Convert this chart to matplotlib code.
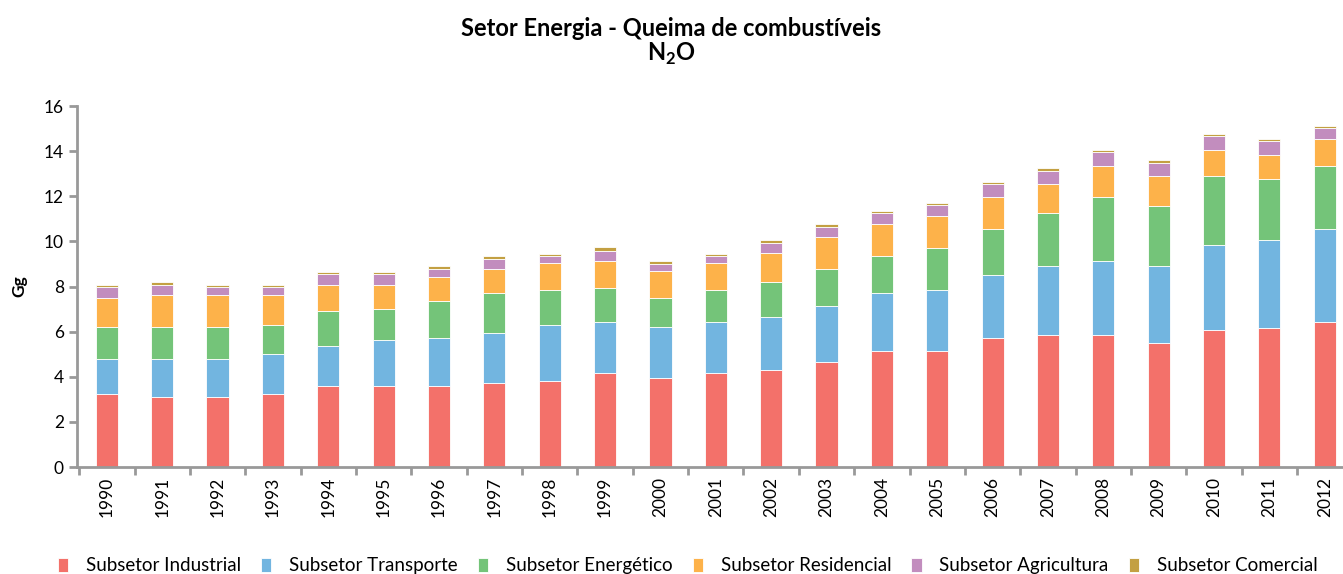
import numpy as np
import matplotlib.pyplot as plt

plt.rcParams['font.family'] = ['Lato', 'DejaVu Sans']
plt.rcParams['mathtext.fontset'] = 'custom'
plt.rcParams['mathtext.rm'] = 'Lato'
plt.rcParams['mathtext.bf'] = 'Lato:bold'

# dados (Gg N2O)
anos = [str(a) for a in range(1990, 2013)]
industrial = [3.24, 3.12, 3.12, 3.24, 3.59, 3.59, 3.59, 3.73, 3.83, 4.18, 3.95, 4.18,
              4.30, 4.65, 5.12, 5.12, 5.71, 5.83, 5.83, 5.48, 6.06, 6.18, 6.42]
transporte = [1.54, 1.66, 1.66, 1.77, 1.78, 2.02, 2.12, 2.22, 2.47, 2.24, 2.25, 2.24,
              2.35, 2.47, 2.59, 2.71, 2.82, 3.06, 3.29, 3.41, 3.77, 3.88, 4.11]
energetico = [1.42, 1.42, 1.42, 1.30, 1.53, 1.41, 1.66, 1.78, 1.53, 1.53, 1.28, 1.41,
              1.53, 1.65, 1.65, 1.88, 2.00, 2.35, 2.83, 2.70, 3.06, 2.71, 2.83]
residencial = [1.28, 1.42, 1.42, 1.31, 1.16, 1.04, 1.05, 1.04, 1.19, 1.17, 1.19, 1.19,
               1.30, 1.41, 1.42, 1.43, 1.42, 1.31, 1.41, 1.31, 1.17, 1.07, 1.19]
agricultura = [0.48, 0.44, 0.34, 0.34, 0.49, 0.49, 0.36, 0.47, 0.34, 0.47, 0.34, 0.34,
               0.45, 0.46, 0.46, 0.46, 0.58, 0.57, 0.59, 0.58, 0.59, 0.59, 0.46]
comercial = [0.10, 0.12, 0.10, 0.10, 0.10, 0.10, 0.12, 0.13, 0.10, 0.14, 0.11, 0.10,
             0.13, 0.13, 0.12, 0.11, 0.12, 0.12, 0.11, 0.11, 0.12, 0.12, 0.11]

series = [
    ("Subsetor Industrial", industrial, "#F3716A"),
    ("Subsetor Transporte", transporte, "#72B5E0"),
    ("Subsetor Energético", energetico, "#74C479"),
    ("Subsetor Residencial", residencial, "#FDB24A"),
    ("Subsetor Agricultura", agricultura, "#C28DBE"),
    ("Subsetor Comercial", comercial, "#C3A042"),
]

fig = plt.figure(figsize=(13.43, 5.74), dpi=100)
ax = fig.add_axes([0.0573, 0.1864, 0.9427, 0.6289])

x = np.arange(len(anos))
base = np.zeros(len(anos))
for nome, vals, cor in series:
    ax.bar(x, vals, width=0.4, bottom=base, color=cor, label=nome,
           edgecolor='white', linewidth=0.6)
    base += np.array(vals)

ax.set_xlim(-0.54, 22.33)
ax.set_ylim(0, 16)
ax.set_yticks(range(0, 17, 2))
ax.set_xticks(x)
ax.set_xticklabels(anos, rotation=90, fontsize=12.5)
ax.set_xticks(np.arange(-0.5, 22.5, 1), minor=True)
ax.tick_params(axis='x', which='major', length=0, pad=7)
ax.tick_params(axis='x', which='minor', length=6, width=2, color='#999999')
ax.tick_params(axis='y', length=6, width=2, color='#999999', labelsize=12.5)

for s in ['top', 'right']:
    ax.spines[s].set_visible(False)
for s in ['left', 'bottom']:
    ax.spines[s].set_color('#999999')
    ax.spines[s].set_linewidth(2)

ax.set_ylabel("Gg", fontsize=12.5, fontweight='bold', labelpad=12)

fig.suptitle("Setor Energia - Queima de combustíveis\nN$_\\mathbf{2}$O",
             fontsize=17, fontweight='bold', y=0.97, linespacing=1.05)

fig.legend(loc='lower center', ncol=6, frameon=False, fontsize=13.5,
           bbox_to_anchor=(0.512, -0.03), handlelength=0.55, handleheight=0.8,
           handletextpad=0.95, columnspacing=1.07)

plt.savefig("out.png", dpi=100)
